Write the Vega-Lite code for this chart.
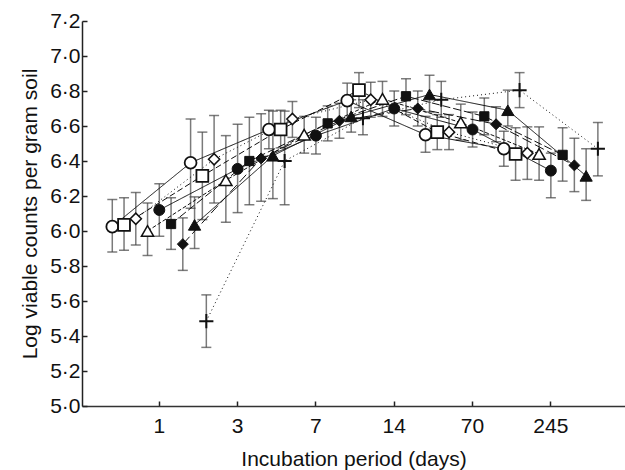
{
  "$schema": "https://vega.github.io/schema/vega-lite/v6.json",
  "autosize": {"type": "none"},
  "padding": {"left": 82, "top": 21, "right": 0, "bottom": 64},
  "width": 543,
  "height": 385,
  "background": "white",
  "config": {
    "view": {"stroke": null},
    "font": "Liberation Sans",
    "axis": {"labelFont": "Liberation Sans", "titleFont": "Liberation Sans", "labelFontSize": 21, "titleFontSize": 21, "titleFontWeight": "normal", "labelColor": "#111", "titleColor": "#111", "domainColor": "#222", "tickColor": "#222", "domainWidth": 1.5, "tickWidth": 1.5, "grid": false}
  },
  "data": {"values": [
    {"day": 1, "series": "OC", "mean": 6.025, "lo": 5.88, "hi": 6.18},
    {"day": 1, "series": "OS", "mean": 6.035, "lo": 5.89, "hi": 6.19},
    {"day": 1, "series": "OD", "mean": 6.07, "lo": 5.92, "hi": 6.22},
    {"day": 1, "series": "OT", "mean": 6.0, "lo": 5.86, "hi": 6.16},
    {"day": 1, "series": "FC", "mean": 6.12, "lo": 5.97, "hi": 6.27},
    {"day": 1, "series": "FS", "mean": 6.04, "lo": 5.895, "hi": 6.19},
    {"day": 1, "series": "FD", "mean": 5.925, "lo": 5.775, "hi": 6.075},
    {"day": 1, "series": "FT", "mean": 6.035, "lo": 5.9, "hi": 6.195},
    {"day": 1, "series": "X", "mean": 5.485, "lo": 5.335, "hi": 5.635},
    {"day": 3, "series": "OC", "mean": 6.39, "lo": 6.13, "hi": 6.64},
    {"day": 3, "series": "OS", "mean": 6.315, "lo": 6.065, "hi": 6.565},
    {"day": 3, "series": "OD", "mean": 6.41, "lo": 6.16, "hi": 6.66},
    {"day": 3, "series": "OT", "mean": 6.29, "lo": 6.05, "hi": 6.545},
    {"day": 3, "series": "FC", "mean": 6.355, "lo": 6.105, "hi": 6.61},
    {"day": 3, "series": "FS", "mean": 6.4, "lo": 6.15, "hi": 6.65},
    {"day": 3, "series": "FD", "mean": 6.415, "lo": 6.17, "hi": 6.67},
    {"day": 3, "series": "FT", "mean": 6.43, "lo": 6.185, "hi": 6.685},
    {"day": 3, "series": "X", "mean": 6.4, "lo": 6.15, "hi": 6.685},
    {"day": 7, "series": "OC", "mean": 6.58, "lo": 6.47, "hi": 6.69},
    {"day": 7, "series": "OS", "mean": 6.58, "lo": 6.475, "hi": 6.69},
    {"day": 7, "series": "OD", "mean": 6.64, "lo": 6.535, "hi": 6.74},
    {"day": 7, "series": "OT", "mean": 6.55, "lo": 6.445, "hi": 6.655},
    {"day": 7, "series": "FC", "mean": 6.545, "lo": 6.44, "hi": 6.65},
    {"day": 7, "series": "FS", "mean": 6.615, "lo": 6.515, "hi": 6.715},
    {"day": 7, "series": "FD", "mean": 6.63, "lo": 6.53, "hi": 6.73},
    {"day": 7, "series": "FT", "mean": 6.655, "lo": 6.565, "hi": 6.75},
    {"day": 7, "series": "X", "mean": 6.645, "lo": 6.55, "hi": 6.75},
    {"day": 14, "series": "OC", "mean": 6.745, "lo": 6.64, "hi": 6.845},
    {"day": 14, "series": "OS", "mean": 6.805, "lo": 6.705, "hi": 6.905},
    {"day": 14, "series": "OD", "mean": 6.75, "lo": 6.65, "hi": 6.85},
    {"day": 14, "series": "OT", "mean": 6.755, "lo": 6.655, "hi": 6.855},
    {"day": 14, "series": "FC", "mean": 6.7, "lo": 6.6, "hi": 6.8},
    {"day": 14, "series": "FS", "mean": 6.77, "lo": 6.665, "hi": 6.87},
    {"day": 14, "series": "FD", "mean": 6.7, "lo": 6.6, "hi": 6.8},
    {"day": 14, "series": "FT", "mean": 6.78, "lo": 6.68, "hi": 6.89},
    {"day": 14, "series": "X", "mean": 6.75, "lo": 6.65, "hi": 6.855},
    {"day": 70, "series": "OC", "mean": 6.55, "lo": 6.45, "hi": 6.655},
    {"day": 70, "series": "OS", "mean": 6.565, "lo": 6.465, "hi": 6.665},
    {"day": 70, "series": "OD", "mean": 6.565, "lo": 6.465, "hi": 6.665},
    {"day": 70, "series": "OT", "mean": 6.62, "lo": 6.52, "hi": 6.725},
    {"day": 70, "series": "FC", "mean": 6.58, "lo": 6.48, "hi": 6.68},
    {"day": 70, "series": "FS", "mean": 6.655, "lo": 6.55, "hi": 6.76},
    {"day": 70, "series": "FD", "mean": 6.61, "lo": 6.51, "hi": 6.71},
    {"day": 70, "series": "FT", "mean": 6.69, "lo": 6.6, "hi": 6.805},
    {"day": 70, "series": "X", "mean": 6.805, "lo": 6.705, "hi": 6.905},
    {"day": 245, "series": "OC", "mean": 6.47, "lo": 6.37, "hi": 6.57},
    {"day": 245, "series": "OS", "mean": 6.44, "lo": 6.29, "hi": 6.59},
    {"day": 245, "series": "OD", "mean": 6.445, "lo": 6.295, "hi": 6.595},
    {"day": 245, "series": "OT", "mean": 6.44, "lo": 6.29, "hi": 6.595},
    {"day": 245, "series": "FC", "mean": 6.345, "lo": 6.19, "hi": 6.445},
    {"day": 245, "series": "FS", "mean": 6.435, "lo": 6.285, "hi": 6.59},
    {"day": 245, "series": "FD", "mean": 6.375, "lo": 6.225, "hi": 6.53},
    {"day": 245, "series": "FT", "mean": 6.315, "lo": 6.175, "hi": 6.47},
    {"day": 245, "series": "X", "mean": 6.47, "lo": 6.315, "hi": 6.62}
  ]},
  "encoding": {
    "x": {"field": "day", "type": "ordinal",
      "scale": {"type": "band", "domain": [1, 3, 7, 14, 70, 245], "paddingInner": 0, "paddingOuter": 0.467, "align": 0.521},
      "axis": {"title": "Incubation period (days)", "labelAngle": 0, "tickSize": -5, "labelPadding": 14, "titlePadding": 12, "domainColor": "#333"}},
    "xOffset": {"field": "series", "type": "nominal",
      "scale": {"type": "band", "domain": ["OC", "OS", "OD", "OT", "FC", "FS", "FD", "FT", "X"], "range": [-13.7, 92.1], "paddingInner": 0, "paddingOuter": 0}},
    "y": {"field": "mean", "type": "quantitative",
      "scale": {"domain": [5, 7.2], "nice": false, "zero": false},
      "axis": {"title": "Log viable counts per gram soil", "values": [5, 5.2, 5.4, 5.6, 5.8, 6, 6.2, 6.4, 6.6, 6.8, 7, 7.2], "labelExpr": "replace(format(datum.value, '.1f'), '.', '·')", "tickSize": -5, "labelPadding": 7, "titlePadding": 9}}
  },
  "layer": [
    {"mark": {"type": "rule", "color": "#7a7a7a", "strokeWidth": 1.5},
     "encoding": {"y": {"field": "lo", "type": "quantitative"}, "y2": {"field": "hi"}}},
    {"mark": {"type": "tick", "orient": "horizontal", "color": "#444", "size": 10, "thickness": 1.5},
     "encoding": {"y": {"field": "hi", "type": "quantitative"}}},
    {"mark": {"type": "tick", "orient": "horizontal", "color": "#444", "size": 10, "thickness": 1.5},
     "encoding": {"y": {"field": "lo", "type": "quantitative"}}},
    {"mark": {"type": "line", "color": "#111", "strokeWidth": 1},
     "encoding": {
       "detail": {"field": "series"},
       "strokeDash": {"field": "series", "type": "nominal", "legend": null,
         "scale": {"domain": ["OC", "OS", "OD", "OT", "FC", "FS", "FD", "FT", "X"],
           "range": [[1, 0], [6, 3], [1, 3], [4, 2], [1, 0], [8, 3], [10, 4], [1, 0], [1, 3]]}}}},
    {"mark": {"type": "point", "filled": false, "opacity": 1, "strokeOpacity": 1, "fillOpacity": 1},
     "encoding": {
       "shape": {"field": "series", "type": "nominal", "legend": null,
         "scale": {"domain": ["OC", "OS", "OD", "OT", "FC", "FS", "FD", "FT", "X"],
           "range": ["circle", "square", "diamond", "triangle-up", "circle", "square", "diamond", "triangle-up", "M-1,0L1,0M0,-1L0,1"]}},
       "fill": {"field": "series", "type": "nominal", "legend": null,
         "scale": {"domain": ["OC", "OS", "OD", "OT", "FC", "FS", "FD", "FT", "X"],
           "range": ["white", "white", "white", "white", "#111", "#111", "#111", "#111", "none"]}},
       "size": {"field": "series", "type": "nominal", "legend": null,
         "scale": {"type": "ordinal", "domain": ["OC", "OS", "OD", "OT", "FC", "FS", "FD", "FT", "X"],
           "range": [140, 140, 125, 150, 120, 85, 120, 150, 200]}},
       "stroke": {"value": "#111"},
       "strokeWidth": {"field": "series", "type": "nominal", "legend": null,
         "scale": {"type": "ordinal", "domain": ["OC", "OS", "OD", "OT", "FC", "FS", "FD", "FT", "X"],
           "range": [1.8, 1.8, 1.5, 1.5, 1, 1, 1, 1, 2]}}
     }}
  ]
}
